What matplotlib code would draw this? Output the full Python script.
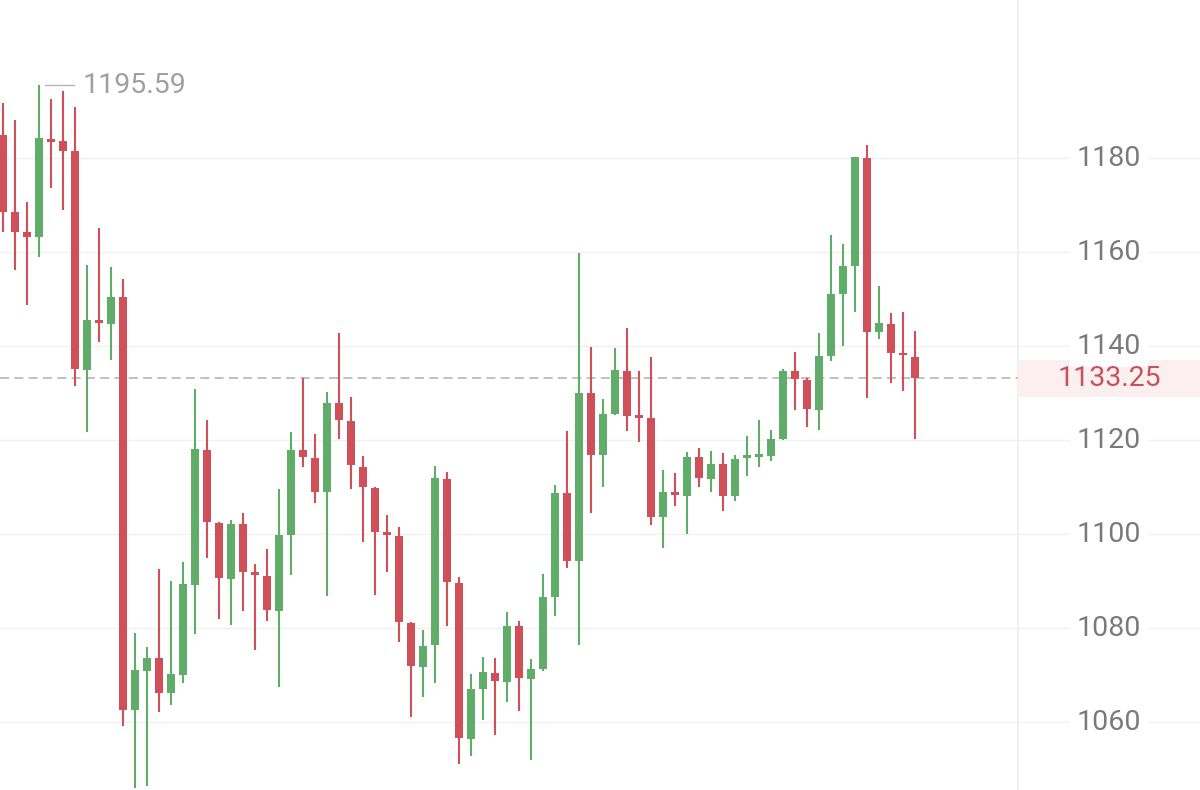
import matplotlib
matplotlib.use("Agg")
import matplotlib.pyplot as plt
import numpy as np

# ---- data ----
opens = [1185.0, 1168.6, 1164.4, 1163.3, 1183.9, 1183.7, 1181.5, 1135.0, 1145.6, 1144.7,
         1150.6, 1062.6, 1071.0, 1073.6, 1066.2, 1070.1, 1089.3, 1117.9, 1102.5, 1090.6,
         1102.2, 1091.9, 1091.1, 1083.8, 1099.8, 1117.9, 1116.2, 1109.1, 1127.9, 1124.2,
         1114.4, 1109.9, 1100.2, 1099.6, 1081.2, 1071.8, 1076.4, 1111.8, 1089.6, 1056.4,
         1067.0, 1070.6, 1068.6, 1080.5, 1069.2, 1071.3, 1086.7, 1108.7, 1094.3, 1130.0,
         1116.9, 1125.6, 1134.8, 1125.2, 1124.7, 1103.6, 1108.9, 1108.1, 1116.4, 1111.8,
         1115.0, 1108.1, 1116.3, 1116.5, 1116.7, 1120.2, 1134.8, 1132.8, 1126.4, 1137.9,
         1151.1, 1157.1, 1180.0, 1143.1, 1144.7, 1138.5, 1137.8]
highs = [1191.8, 1188.1, 1170.8, 1195.59, 1192.6, 1194.4, 1191.0, 1157.3, 1165.1, 1156.8,
         1154.3, 1079.0, 1076.1, 1092.6, 1090.1, 1094.1, 1130.9, 1124.3, 1102.7, 1103.0,
         1104.6, 1093.7, 1096.8, 1109.6, 1121.8, 1133.2, 1121.3, 1130.3, 1142.8, 1129.3,
         1116.7, 1110.1, 1104.1, 1101.6, 1081.4, 1079.6, 1114.6, 1113.3, 1091.0, 1070.2,
         1074.0, 1073.6, 1083.5, 1081.6, 1073.5, 1091.5, 1110.5, 1122.0, 1159.9, 1139.9,
         1128.8, 1139.6, 1144.0, 1134.7, 1137.7, 1113.7, 1113.0, 1117.6, 1118.4, 1117.7,
         1117.4, 1116.9, 1120.9, 1124.3, 1122.3, 1135.1, 1138.7, 1133.2, 1142.9, 1163.7,
         1161.8, 1180.3, 1182.8, 1152.9, 1147.1, 1147.4, 1143.3]
lows = [1164.3, 1156.2, 1148.8, 1159.1, 1173.6, 1169.1, 1131.6, 1121.8, 1141.0, 1137.1,
        1059.2, 1046.0, 1046.4, 1062.3, 1063.8, 1068.4, 1078.9, 1095.0, 1082.1, 1080.7,
        1083.7, 1075.4, 1081.6, 1067.5, 1091.4, 1114.4, 1106.7, 1086.9, 1120.2, 1109.6,
        1098.4, 1087.1, 1091.9, 1077.1, 1061.2, 1065.4, 1068.3, 1080.5, 1051.1, 1052.8,
        1060.5, 1057.4, 1064.4, 1062.5, 1052.1, 1071.0, 1082.7, 1092.8, 1076.4, 1104.5,
        1110.1, 1125.4, 1122.0, 1119.7, 1102.0, 1097.0, 1106.0, 1100.1, 1110.0, 1109.1,
        1105.0, 1107.1, 1112.4, 1114.4, 1115.6, 1120.0, 1126.4, 1122.8, 1122.3, 1136.9,
        1140.1, 1147.4, 1129.1, 1141.5, 1132.1, 1130.6, 1120.3]
closes = [1168.6, 1164.4, 1163.3, 1184.3, 1183.5, 1181.6, 1135.1, 1145.7, 1144.9, 1150.6,
          1062.6, 1071.1, 1073.7, 1066.2, 1070.3, 1089.5, 1118.1, 1102.7, 1090.8, 1102.2,
          1092.0, 1091.3, 1084.0, 1099.8, 1117.9, 1116.5, 1109.1, 1128.0, 1124.3, 1114.7,
          1110.0, 1100.4, 1099.9, 1081.4, 1072.0, 1076.3, 1111.9, 1089.9, 1056.6, 1067.2,
          1070.8, 1068.9, 1080.6, 1069.4, 1071.3, 1086.7, 1108.9, 1094.3, 1130.1, 1116.9,
          1125.7, 1135.0, 1125.2, 1124.8, 1103.7, 1109.1, 1108.4, 1116.5, 1112.0, 1115.0,
          1108.2, 1116.0, 1116.7, 1116.9, 1120.2, 1134.8, 1133.0, 1126.6, 1137.9, 1151.1,
          1157.1, 1180.2, 1143.1, 1144.9, 1138.5, 1138.1, 1133.25]
yticks = [1060, 1080, 1100, 1120, 1140, 1160, 1180]
last_price = 1133.25
max_price = 1195.59

# ---- style ----
plt.rcParams['font.family'] = ['Roboto', 'DejaVu Sans']
plt.rcParams['lines.scale_dashes'] = False
RED = '#d0505a'
GREEN = '#5fad68'
FS = 20.5

W, H = 1200, 790
fig = plt.figure(figsize=(W / 100, H / 100), dpi=100)
ax = fig.add_axes([0, 0, 1, 1])
ax.set_axis_off()

# pixel mapping helpers
px_step = 12.0
x0_px = 3.0
xmin = -x0_px / px_step
xmax = (W - x0_px) / px_step
ax.set_xlim(xmin, xmax)
ax.set_ylim(1045.62, 1213.68)
sep_x = (1018 - x0_px) / px_step
lab_x = (1109 - x0_px) / px_step

# grid lines
for t in yticks:
    ax.axhline(t, color='#f1f1f1', lw=1.0, zorder=0)
ax.axvline(sep_x, color='#eeeeee', lw=1.2, zorder=0)

# candles
n = len(opens)
xs = np.arange(n)
o = np.array(opens); c = np.array(closes); h = np.array(highs); l = np.array(lows)
up = c >= o
cols = np.where(up, GREEN, RED)
ax.vlines(xs, l, h, colors=cols, lw=1.5, zorder=2)
bottom = np.minimum(o, c)
height = np.maximum(np.abs(c - o), 0.55)
ax.bar(xs, height, bottom=bottom, width=8 / px_step, color=cols, zorder=3, linewidth=0)

# last price dashed line
ax.plot([xmin, sep_x], [last_price, last_price], color='#b0b0b0', lw=1.1,
        linestyle=(0, (6.5, 3.8)), zorder=1)
# last price tag
ax.add_patch(plt.Rectangle((sep_x, last_price - 3.95), xmax - sep_x, 7.9,
                           facecolor='#fcefef', edgecolor='none', zorder=1))
ax.text(lab_x, last_price, f"{last_price:.2f}", color='#c9515b', fontsize=FS,
        ha='center', va='center', zorder=5)

# y tick labels
for t in yticks:
    ax.text(lab_x, t, str(t), color='#7a7a7a', fontsize=FS, ha='center', va='center',
            zorder=4, bbox=dict(boxstyle='square,pad=0.25', facecolor='white',
                                edgecolor='none'))

# max price annotation
imax = int(np.argmax(h))
ax.plot([imax + 0.5, imax + 2.9], [max_price, max_price], color='#b5b5b5', lw=1.0, zorder=4)
ax.text(imax + 3.65, max_price, f"{max_price:.2f}", color='#a0a0a0', fontsize=FS,
        ha='left', va='center', zorder=4)

fig.savefig('out.png', dpi=100)
